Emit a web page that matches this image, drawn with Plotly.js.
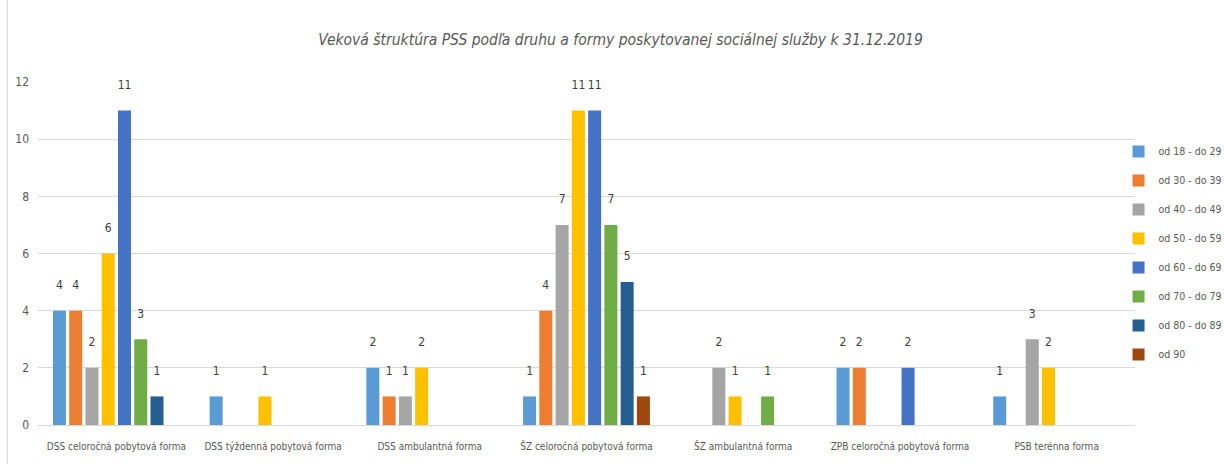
<!DOCTYPE html>
<html>
<head>
<meta charset="utf-8">
<script src="https://cdn.plot.ly/plotly-3.0.1.min.js"></script>
<style>html,body{margin:0;padding:0;background:#fff}</style>
</head>
<body>
<div id="chart" style="width:1224px;height:464px"></div>
<script>
var categories = ['DSS celoročná pobytová forma', 'DSS týždenná pobytová forma', 'DSS ambulantná forma',
  'ŠZ celoročná pobytová forma', 'ŠZ ambulantná forma', 'ZPB celoročná pobytová forma', 'PSB terénna forma'];

var seriesNames = ['od 18 - do 29', 'od 30 - do 39', 'od 40 - do 49', 'od 50 - do 59',
  'od 60 - do 69', 'od 70 - do 79', 'od 80 - do 89', 'od 90'];

var od18 = [4, 1, 2, 1, null, 2, 1];
var od30 = [4, null, 1, 4, null, 2, null];
var od40 = [2, null, 1, 7, 2, null, 3];
var od50 = [6, 1, 2, 11, 1, null, 2];
var od60 = [11, null, null, 11, null, 2, null];
var od70 = [3, null, null, 7, 1, null, null];
var od80 = [1, null, null, 5, null, null, null];
var od90 = [null, null, null, 1, null, null, null];

var seriesValues = [od18, od30, od40, od50, od60, od70, od80, od90];
var colors = ['#5B9BD5', '#ED7D31', '#A5A5A5', '#FFC000', '#4472C4', '#70AD47', '#255E91', '#9E480E'];

var font = '"DejaVu Sans Condensed", "Liberation Sans", Arial, sans-serif';

var data = seriesValues.map(function (vals, i) {
  return {
    type: 'bar',
    name: seriesNames[i],
    x: categories,
    y: vals,
    // empty second line lifts the label off the bar top
    text: vals.map(function (v) { return v == null ? '' : v + '<br>\u00a0'; }),
    textposition: 'outside',
    constraintext: 'none',
    cliponaxis: false,
    textfont: {family: font, size: 12, color: '#404040'},
    marker: {color: colors[i]},
    legendgroup: 'g' + i
  };
});

var layout = {
  width: 1224,
  height: 464,
  barmode: 'group',
  bargap: 0.17,
  bargroupgap: 0.2,
  paper_bgcolor: '#ffffff',
  plot_bgcolor: '#ffffff',
  margin: {l: 38, r: 89, t: 82, b: 39, autoexpand: false},
  font: {family: font, size: 12, color: '#595959'},
  title: {
    text: '<i>Veková štruktúra PSS podľa druhu a formy poskytovanej sociálnej služby k 31.12.2019</i>',
    font: {family: font, size: 15.5, color: '#595959'},
    x: 0.507,
    xanchor: 'center',
    y: 0.915,
    yanchor: 'middle'
  },
  xaxis: {
    showgrid: false,
    showline: true,
    linecolor: '#d9d9d9',
    ticks: '',
    tickangle: 0,
    ticklabelstandoff: 12,
    tickfont: {family: font, size: 10, color: '#595959'}
  },
  yaxis: {
    range: [0, 12],
    dtick: 2,
    showgrid: true,
    gridcolor: '#d9d9d9',
    zeroline: false,
    ticks: '',
    ticklabelstandoff: 8,
    tickfont: {family: font, size: 12, color: '#595959'}
  },
  legend: {
    x: 0.985,
    xanchor: 'left',
    y: 0.84,
    yanchor: 'top',
    bgcolor: 'rgba(0,0,0,0)',
    tracegroupgap: 10,
    itemwidth: 30,
    font: {family: font, size: 10.5, color: '#595959'}
  },
  shapes: [{
    type: 'line', xref: 'paper', yref: 'paper',
    x0: -0.028, x1: -0.028, y0: -0.2, y1: 1.25,
    line: {color: '#d9d9d9', width: 1}
  }]
};

Plotly.newPlot('chart', data, layout, {displayModeBar: false});
</script>
</body>
</html>
